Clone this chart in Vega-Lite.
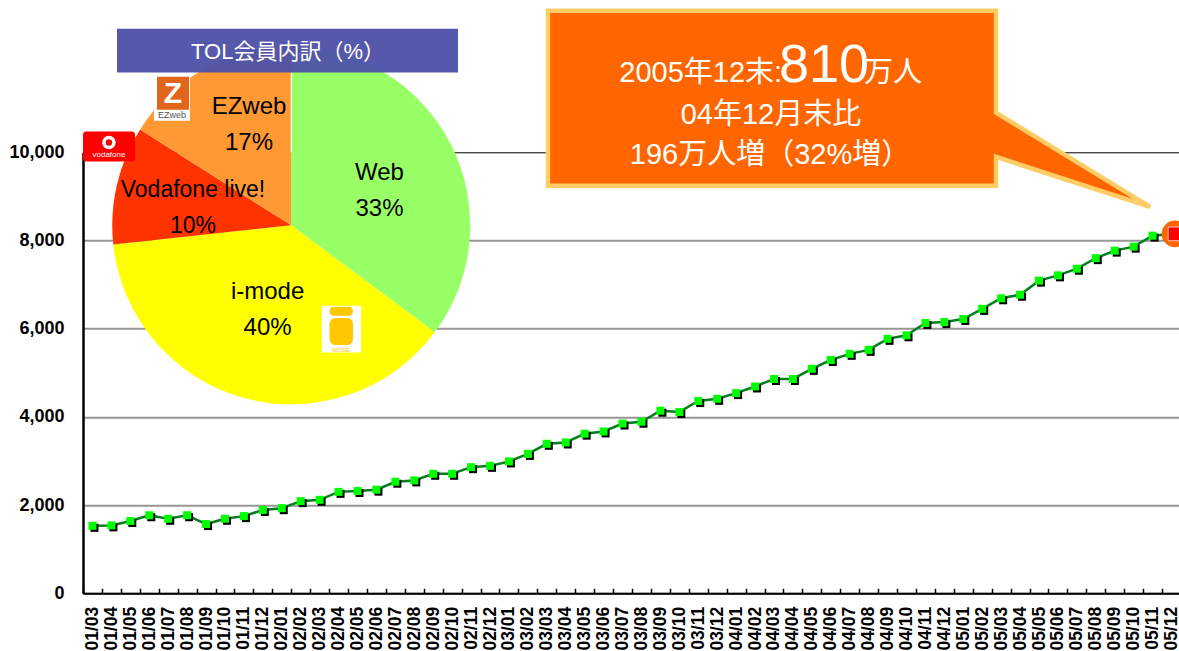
{"$schema":"https://vega.github.io/schema/vega-lite/v6.json","width":1096,"height":441,"autosize":{"type":"none"},"padding":{"left":83,"top":152.3,"right":0,"bottom":57.7},"background":"white",
"config":{"view":{"stroke":null},"text":{"font":"Liberation Sans, Noto Sans CJK JP"}},
"datasets":{
"members":[{"month":"01/03","members":1530},{"month":"01/04","members":1540},{"month":"01/05","members":1640},{"month":"01/06","members":1770},{"month":"01/07","members":1690},{"month":"01/08","members":1770},{"month":"01/09","members":1570},{"month":"01/10","members":1690},{"month":"01/11","members":1750},{"month":"01/12","members":1890},{"month":"02/01","members":1930},{"month":"02/02","members":2090},{"month":"02/03","members":2120},{"month":"02/04","members":2300},{"month":"02/05","members":2320},{"month":"02/06","members":2350},{"month":"02/07","members":2530},{"month":"02/08","members":2560},{"month":"02/09","members":2710},{"month":"02/10","members":2710},{"month":"02/11","members":2860},{"month":"02/12","members":2890},{"month":"03/01","members":2990},{"month":"03/02","members":3160},{"month":"03/03","members":3390},{"month":"03/04","members":3420},{"month":"03/05","members":3620},{"month":"03/06","members":3670},{"month":"03/07","members":3850},{"month":"03/08","members":3890},{"month":"03/09","members":4140},{"month":"03/10","members":4110},{"month":"03/11","members":4360},{"month":"03/12","members":4410},{"month":"04/01","members":4540},{"month":"04/02","members":4690},{"month":"04/03","members":4860},{"month":"04/04","members":4860},{"month":"04/05","members":5090},{"month":"04/06","members":5290},{"month":"04/07","members":5430},{"month":"04/08","members":5520},{"month":"04/09","members":5770},{"month":"04/10","members":5850},{"month":"04/11","members":6130},{"month":"04/12","members":6150},{"month":"05/01","members":6220},{"month":"05/02","members":6450},{"month":"05/03","members":6690},{"month":"05/04","members":6770},{"month":"05/05","members":7090},{"month":"05/06","members":7210},{"month":"05/07","members":7360},{"month":"05/08","members":7600},{"month":"05/09","members":7770},{"month":"05/10","members":7860},{"month":"05/11","members":8110},{"month":"05/12","members":8150}],
"slices":[{"service":"Web","label":"Web\n33%","sweep":35.2,"rank":1},{"service":"i-mode","label":"i-mode\n40%","sweep":38.1,"rank":2},{"service":"Vodafone live!","label":"Vodafone live!\n10%","sweep":10.7,"rank":3},{"service":"EZweb","label":"EZweb\n17%","sweep":16,"rank":4}],
"callout":[{"t":24.56,"upper":13210,"lower":9240},{"t":48.23,"upper":13210,"lower":9240},{"t":48.23,"upper":10896,"lower":9898},{"t":56.37,"upper":8764,"lower":8764}]
},
"layer":[
{"data":{"name":"members"},
"encoding":{"x":{"field":"month","type":"ordinal","sort":null,"title":null,"scale":{"type":"band","paddingInner":0,"paddingOuter":0,"range":[0,1098]},"axis":{"tickBand":"extent","tickSize":-5,"tickWidth":1.5,"tickColor":"#000","domainColor":"#000","domainWidth":2,"labelAngle":-90,"labelAlign":"right","labelBaseline":"middle","labelFont":"Liberation Sans","labelFontWeight":"bold","labelFontSize":17.5,"labelColor":"#000","labelPadding":18,"labelOverlap":false,"labelFlush":false,"grid":false}},
"y":{"field":"members","type":"quantitative","title":null,"scale":{"domain":[0,10000],"nice":false,"zero":false},"axis":{"values":[0,2000,4000,6000,8000,10000],"format":",d","grid":true,"gridColor":{"condition":{"test":"datum.value==10000","value":"#000000"},"value":"#969696"},"gridWidth":{"condition":{"test":"datum.value==10000","value":1},"value":2},"tickSize":0,"domainColor":"#000","domainWidth":2.5,"labelFont":"Liberation Sans","labelFontWeight":"bold","labelFontSize":18,"labelColor":"#000","labelPadding":19}}},
"layer":[
{"mark":{"type":"line","color":"#007F1E","strokeWidth":2.5}},
{"transform":[{"filter":"datum.month!='05/12'"}],"mark":{"type":"square","color":"#000","opacity":1,"size":64,"xOffset":2,"yOffset":2}},
{"transform":[{"filter":"datum.month!='05/12'"}],"mark":{"type":"square","color":"#00FF00","opacity":1,"size":64}},
{"transform":[{"filter":"datum.month=='05/12'"}],"mark":{"type":"circle","color":"#FF6600","opacity":1,"size":707,"xOffset":3.5}},
{"transform":[{"filter":"datum.month=='05/12'"}],"mark":{"type":"square","fill":"#FF0000","stroke":"#FFC8C8","strokeWidth":1,"opacity":1,"size":190,"xOffset":3.5}}
]},
{"data":{"values":[{}]},
"layer":[
{"data":{"name":"slices"},"mark":{"type":"arc","outerRadius":179},"encoding":{"x":{"datum":11,"type":"quantitative","scale":{"domain":[0,58],"range":[0,1098],"nice":false,"zero":false},"axis":null},"y":{"datum":8344,"type":"quantitative"},"theta":{"field":"sweep","type":"quantitative","stack":true},"order":{"field":"rank"},"color":{"field":"service","type":"nominal","legend":null,"scale":{"domain":["Web","i-mode","Vodafone live!","EZweb"],"range":["#99FF66","#FFFF00","#FF3300","#FF9933"]}}}},
{"mark":{"type":"rule","color":"#FFFFFF","strokeWidth":1},"encoding":{"x":{"datum":11,"type":"quantitative","axis":null},"y":{"datum":11804,"type":"quantitative"},"y2":{"datum":9989}}},
{"data":{"name":"slices"},"transform":[{"filter":"datum.rank==1"}],"mark":{"type":"text","fontSize":24,"lineBreak":"\n","lineHeight":36,"color":"#000","baseline":"middle"},"encoding":{"text":{"field":"label"},"x":{"datum":15.66,"type":"quantitative","axis":null},"y":{"datum":9535,"type":"quantitative"}}},
{"data":{"name":"slices"},"transform":[{"filter":"datum.rank==2"}],"mark":{"type":"text","fontSize":24,"lineBreak":"\n","lineHeight":36,"color":"#000","baseline":"middle"},"encoding":{"text":{"field":"label"},"x":{"datum":9.75,"type":"quantitative","axis":null},"y":{"datum":6835,"type":"quantitative"}}},
{"data":{"name":"slices"},"transform":[{"filter":"datum.rank==3"}],"mark":{"type":"text","fontSize":23,"lineBreak":"\n","lineHeight":36,"color":"#000","baseline":"middle"},"encoding":{"text":{"field":"label"},"x":{"datum":5.81,"type":"quantitative","axis":null},"y":{"datum":9148,"type":"quantitative"}}},
{"data":{"name":"slices"},"transform":[{"filter":"datum.rank==4"}],"mark":{"type":"text","fontSize":24,"lineBreak":"\n","lineHeight":36,"color":"#000","baseline":"middle"},"encoding":{"text":{"field":"label"},"x":{"datum":8.77,"type":"quantitative","axis":null},"y":{"datum":11032,"type":"quantitative"}}},
{"mark":{"type":"rect","color":"#4F52A8","opacity":0.96},"encoding":{"x":{"datum":1.796,"type":"quantitative","axis":null},"x2":{"datum":19.81},"y":{"datum":12802,"type":"quantitative"},"y2":{"datum":11810}}},
{"mark":{"type":"text","fontSize":22,"color":"#FFFFFF","baseline":"middle"},"encoding":{"text":{"value":"TOL会員内訳（%）"},"x":{"datum":10.83,"type":"quantitative","axis":null},"y":{"datum":12280,"type":"quantitative"}}},
{"mark":{"type":"rect","color":"#FF0000","cornerRadius":3},"encoding":{"x":{"datum":0,"type":"quantitative","axis":null},"x2":{"datum":2.75},"y":{"datum":10472,"type":"quantitative"},"y2":{"datum":9791}}},
{"mark":{"type":"point","shape":"circle","filled":false,"stroke":"#FFFFFF","strokeWidth":3.5,"size":100,"opacity":1},"encoding":{"x":{"datum":1.37,"type":"quantitative","axis":null},"y":{"datum":10222,"type":"quantitative"}}},
{"mark":{"type":"text","fontSize":8,"color":"#FFFFFF","baseline":"middle"},"encoding":{"text":{"value":"vodafone"},"x":{"datum":1.37,"type":"quantitative","axis":null},"y":{"datum":9939,"type":"quantitative"}}},
{"mark":{"type":"rect","color":"#FFFFFF"},"encoding":{"x":{"datum":3.75,"type":"quantitative","axis":null},"x2":{"datum":5.65},"y":{"datum":11735,"type":"quantitative"},"y2":{"datum":10714}}},
{"mark":{"type":"rect","color":"#E0651A"},"encoding":{"x":{"datum":3.91,"type":"quantitative","axis":null},"x2":{"datum":5.6},"y":{"datum":11713,"type":"quantitative"},"y2":{"datum":10964}}},
{"mark":{"type":"text","fontSize":30,"fontWeight":"bold","color":"#FFFFFF","baseline":"middle"},"encoding":{"text":{"value":"Z"},"x":{"datum":4.75,"type":"quantitative","axis":null},"y":{"datum":11327,"type":"quantitative"}}},
{"mark":{"type":"text","fontSize":9,"color":"#555555","baseline":"middle"},"encoding":{"text":{"value":"EZweb"},"x":{"datum":4.7,"type":"quantitative","axis":null},"y":{"datum":10840,"type":"quantitative"}}},
{"mark":{"type":"rect","color":"#FFFFFF"},"encoding":{"x":{"datum":12.61,"type":"quantitative","axis":null},"x2":{"datum":14.69},"y":{"datum":6518,"type":"quantitative"},"y2":{"datum":5458}}},
{"mark":{"type":"rect","color":"#FFC800","cornerRadius":4},"encoding":{"x":{"datum":13.02,"type":"quantitative","axis":null},"x2":{"datum":14.26},"y":{"datum":6495,"type":"quantitative"},"y2":{"datum":6291}}},
{"mark":{"type":"rect","color":"#FFC800","cornerRadius":6},"encoding":{"x":{"datum":13.02,"type":"quantitative","axis":null},"x2":{"datum":14.26},"y":{"datum":6245,"type":"quantitative"},"y2":{"datum":5633}}},
{"mark":{"type":"text","fontSize":6,"color":"#FFC800","baseline":"middle"},"encoding":{"text":{"value":"MODE"},"x":{"datum":13.63,"type":"quantitative","axis":null},"y":{"datum":5520,"type":"quantitative"}}},
{"data":{"name":"callout"},"mark":{"type":"area","color":"#FF6600","opacity":1,"stroke":"#FFCC66","strokeWidth":4.5,"strokeJoin":"miter","interpolate":"linear"},"encoding":{"x":{"field":"t","type":"quantitative","axis":null,"title":null},"y":{"field":"upper","type":"quantitative"},"y2":{"field":"lower"}}},
{"mark":{"type":"text","fontSize":29,"color":"#FFFFFF","align":"right","baseline":"alphabetic"},"encoding":{"text":{"value":"2005年12末:"},"x":{"datum":36.93,"type":"quantitative","axis":null},"y":{"datum":11600,"type":"quantitative"}}},
{"mark":{"type":"text","fontSize":54,"color":"#FFFFFF","align":"center","baseline":"alphabetic"},"encoding":{"text":{"value":"810"},"x":{"datum":39.14,"type":"quantitative","axis":null},"y":{"datum":11600,"type":"quantitative"}}},
{"mark":{"type":"text","fontSize":29,"color":"#FFFFFF","align":"left","baseline":"alphabetic"},"encoding":{"text":{"value":"万人"},"x":{"datum":41.26,"type":"quantitative","axis":null},"y":{"datum":11600,"type":"quantitative"}}},
{"mark":{"type":"text","fontSize":29,"color":"#FFFFFF","baseline":"middle"},"encoding":{"text":{"value":"04年12月末比"},"x":{"datum":36.34,"type":"quantitative","axis":null},"y":{"datum":10851,"type":"quantitative"}}},
{"mark":{"type":"text","fontSize":29,"color":"#FFFFFF","baseline":"middle"},"encoding":{"text":{"value":"196万人増（32%増）"},"x":{"datum":36.29,"type":"quantitative","axis":null},"y":{"datum":9943,"type":"quantitative"}}}
]}
],
"resolve":{"scale":{"x":"independent"}}}
